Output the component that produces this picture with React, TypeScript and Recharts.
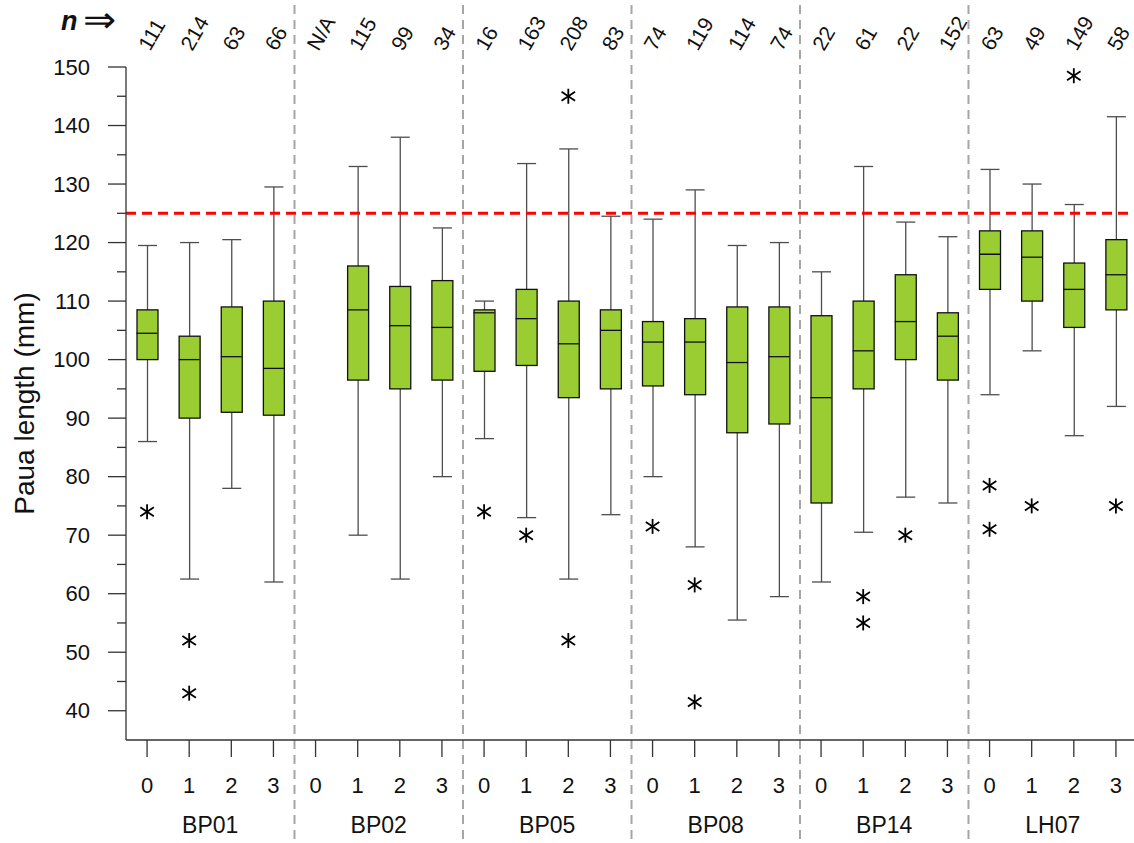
import React from 'react';
import { ComposedChart, Bar, Scatter, XAxis, YAxis, ReferenceLine } from 'recharts';

// Sites and survey years along the x axis
const sites = ['BP01', 'BP02', 'BP05', 'BP08', 'BP14', 'LH07'];
const years = ['0', '1', '2', '3'];

// Sample size per site/year (shown rotated above the plot)
const sampleSizes = [
  '111', '214', '63', '66',
  'N/A', '115', '99', '34',
  '16', '163', '208', '83',
  '74', '119', '114', '74',
  '22', '61', '22', '152',
  '63', '49', '149', '58',
];

// Box-plot statistics, paua length (mm)
const whiskerLow = [
  86, 62.5, 78, 62,
  null, 70, 62.5, 80,
  86.5, 73, 62.5, 73.5,
  80, 68, 55.5, 59.5,
  62, 70.5, 76.5, 75.5,
  94, 101.5, 87, 92,
];
const lowerQuartile = [
  100, 90, 91, 90.5,
  null, 96.5, 95, 96.5,
  98, 99, 93.5, 95,
  95.5, 94, 87.5, 89,
  75.5, 95, 100, 96.5,
  112, 110, 105.5, 108.5,
];
const medians = [
  104.5, 100, 100.5, 98.5,
  null, 108.5, 105.8, 105.5,
  108, 107, 102.7, 105,
  103, 103, 99.5, 100.5,
  93.5, 101.5, 106.5, 104,
  118, 117.5, 112, 114.5,
];
const upperQuartile = [
  108.5, 104, 109, 110,
  null, 116, 112.5, 113.5,
  108.5, 112, 110, 108.5,
  106.5, 107, 109, 109,
  107.5, 110, 114.5, 108,
  122, 122, 116.5, 120.5,
];
const whiskerHigh = [
  119.5, 120, 120.5, 129.5,
  null, 133, 138, 122.5,
  110, 133.5, 136, 124.5,
  124, 129, 119.5, 120,
  115, 133, 123.5, 121,
  132.5, 130, 126.5, 141.5,
];
const outlierValues: number[][] = [
  [74], [52, 43], [], [],
  [], [], [], [],
  [74], [70], [145, 52], [],
  [71.5], [61.5, 41.5], [], [],
  [], [59.5, 55], [70], [],
  [78.5, 71], [75], [148.5], [75],
];

// Minimum legal size line
const sizeLimit = 125;
const yTicks = [40, 45, 50, 55, 60, 65, 70, 75, 80, 85, 90, 95, 100, 105, 110, 115, 120, 125, 130, 135, 140, 145, 150];

const FONT = '"Liberation Sans", Arial, Helvetica, sans-serif';
const BOX_W = 21;
const CAP_W = 19;

const rows = sites.flatMap((site, s) =>
  years.map((year, y) => {
    const i = s * 4 + y;
    const has = medians[i] != null;
    return {
      key: `${site}-${year}`,
      site,
      year,
      n: sampleSizes[i],
      whisker: has ? [whiskerLow[i], whiskerHigh[i]] : null,
      box: has ? [lowerQuartile[i], upperQuartile[i]] : null,
      median: medians[i],
      out1: outlierValues[i][0] ?? null,
      out2: outlierValues[i][1] ?? null,
    };
  })
);

const ok = (v: any) => typeof v === 'number' && isFinite(v);

const WhiskerShape = (p: any) => {
  const { x, y, width, height, payload } = p;
  if (!payload || !payload.whisker || !ok(y) || !ok(height)) return <g />;
  const top = Math.min(y, y + height);
  const bot = Math.max(y, y + height);
  const cx = x + width / 2;
  return (
    <g stroke="#4d4d4d" strokeWidth={1.3}>
      <line x1={cx} x2={cx} y1={top} y2={bot} />
      <line x1={x} x2={x + width} y1={top} y2={top} />
      <line x1={x} x2={x + width} y1={bot} y2={bot} />
    </g>
  );
};

const BoxShape = (p: any) => {
  const { x, y, width, height, payload } = p;
  if (!payload || !payload.box || !ok(y) || !ok(height)) return <g />;
  const top = Math.min(y, y + height);
  return (
    <rect x={x} y={top} width={width} height={Math.abs(height)} fill="#9acd32" stroke="#111" strokeWidth={1.3} />
  );
};

const MedianShape = (p: any) => {
  const { cx, cy } = p;
  if (!ok(cx) || !ok(cy)) return <g />;
  return <line x1={cx - BOX_W / 2} x2={cx + BOX_W / 2} y1={cy} y2={cy} stroke="#111" strokeWidth={1.3} />;
};

const AsteriskShape = (p: any) => {
  const { cx, cy } = p;
  if (!ok(cx) || !ok(cy)) return <g />;
  const r = 7.5;
  const dx = r * 0.9;
  const dy = r * 0.6;
  return (
    <g stroke="#000" strokeWidth={1.8}>
      <line x1={cx} x2={cx} y1={cy - r} y2={cy + r} />
      <line x1={cx - dx} x2={cx + dx} y1={cy - dy} y2={cy + dy} />
      <line x1={cx - dx} x2={cx + dx} y1={cy + dy} y2={cy - dy} />
    </g>
  );
};

const YTick = (p: any) => {
  const { x, y, payload } = p;
  const v = payload.value;
  const major = v % 10 === 0;
  return (
    <g>
      <line x1={x - (major ? 18 : 9)} x2={x} y1={y} y2={y} stroke="#333" strokeWidth={1.3} />
      {major && (
        <text x={x - 36} y={y} dy="0.35em" textAnchor="end" fontSize={22} fontFamily={FONT} fill="#111">
          {v}
        </text>
      )}
    </g>
  );
};

const CategoryTick = (p: any) => {
  const { x, y, payload } = p;
  const [site, year] = String(payload.value).split('-');
  const half = ok(payload.offset) && payload.offset > 0 ? payload.offset : 21;
  return (
    <g>
      <text x={x} y={y + 36} textAnchor="middle" fontSize={22} fontFamily={FONT} fill="#111">
        {year}
      </text>
      {year === '1' && (
        <text x={x + half} y={y + 76} textAnchor="middle" fontSize={23} fontFamily={FONT} fill="#111">
          {site}
        </text>
      )}
    </g>
  );
};

const CountTick = (p: any) => {
  const { x, y, payload } = p;
  const row = rows.find((r) => r.key === payload.value);
  const tx = x + 3;
  const ty = y - 15;
  return (
    <text x={tx} y={ty} transform={`rotate(-60 ${tx} ${ty})`} textAnchor="start" fontSize={21} fontFamily={FONT} fill="#111">
      {row ? row.n : ''}
    </text>
  );
};

const SeparatorShape = (p: any) => {
  const top = Math.min(p.y1, p.y2);
  const bot = Math.max(p.y1, p.y2);
  return (
    <line x1={p.x1} x2={p.x2} y1={top - 62} y2={bot + 103} stroke="#a6a6a6" strokeWidth={2} strokeDasharray="9 6" />
  );
};

export default function App() {
  return (
    <div style={{ position: 'absolute', left: 0, top: 0, width: 1134, height: 843, overflow: 'hidden', background: '#fff' }}>
      <ComposedChart width={1137} height={843} data={rows} margin={{ top: 0, right: 0, bottom: 0, left: 0 }}>
        <XAxis
          xAxisId="main"
          dataKey="key"
          type="category"
          allowDuplicatedCategory={false}
          height={103}
          interval={0}
          tickSize={17}
          tickMargin={0}
          axisLine={{ stroke: '#333', strokeWidth: 1.3 }}
          tickLine={{ stroke: '#333', strokeWidth: 1.3 }}
          tick={(p: any) => <CategoryTick {...p} />}
        />
        <XAxis xAxisId="wh" dataKey="key" type="category" allowDuplicatedCategory={false} hide />
        <XAxis
          xAxisId="top"
          orientation="top"
          dataKey="key"
          type="category"
          allowDuplicatedCategory={false}
          height={67}
          interval={0}
          axisLine={false}
          tickLine={false}
          tickSize={0}
          tickMargin={0}
          tick={(p: any) => <CountTick {...p} />}
          label={{
            content: (lp: any) => {
              const vb = lp.viewBox || { x: 126, y: 0 };
              const ax = vb.x - 43;
              const ay = vb.y + 30;
              return (
                <g fontFamily={FONT} fill="#111">
                  <text x={vb.x - 65} y={ay} fontSize={27} fontWeight="bold" fontStyle="italic">n</text>
                  <text transform={`translate(${ax} ${ay}) scale(1.1 1)`} x={0} y={2} fontSize={36}>⇒</text>
                </g>
              );
            },
          }}
        />
        <YAxis
          type="number"
          domain={[35, 150]}
          ticks={yTicks}
          interval={0}
          width={126}
          allowDataOverflow
          axisLine={{ stroke: '#333', strokeWidth: 1.3 }}
          tickLine={false}
          tickSize={0}
          tickMargin={0}
          tick={(p: any) => <YTick {...p} />}
          label={{
            content: (lp: any) => {
              const vb = lp.viewBox || { x: 0, y: 67, width: 126, height: 673 };
              const cx = vb.x + 24;
              const cy = vb.y + vb.height / 2;
              return (
                <text x={cx} y={cy} transform={`rotate(-90 ${cx} ${cy})`} textAnchor="middle" dy="0.35em" fontSize={28} fontFamily={FONT} fill="#111">
                  Paua length (mm)
                </text>
              );
            },
          }}
        />
        {sites.slice(0, -1).map((site) => (
          <ReferenceLine key={site} xAxisId="main" x={`${site}-3`} position="end" shape={SeparatorShape} />
        ))}
        <Bar xAxisId="wh" dataKey="whisker" barSize={CAP_W} isAnimationActive={false} shape={WhiskerShape} />
        <Bar xAxisId="main" dataKey="box" barSize={BOX_W} isAnimationActive={false} shape={BoxShape} />
        <Scatter xAxisId="main" dataKey="median" isAnimationActive={false} shape={MedianShape} />
        <Scatter xAxisId="main" dataKey="out1" isAnimationActive={false} shape={AsteriskShape} />
        <Scatter xAxisId="main" dataKey="out2" isAnimationActive={false} shape={AsteriskShape} />
        <ReferenceLine xAxisId="main" y={sizeLimit} stroke="#ff0000" strokeWidth={3} strokeDasharray="10 6" />
      </ComposedChart>
    </div>
  );
}
